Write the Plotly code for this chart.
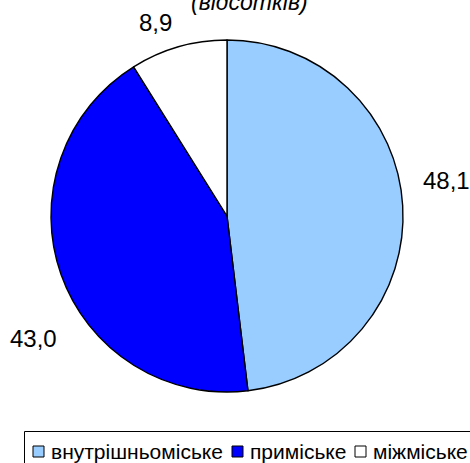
import plotly.graph_objects as go

categories = ["внутрішньоміське", "приміське", "міжміське"]
values = [48.1, 43.0, 8.9]
colors = ["#99CCFF", "#0000FF", "#FFFFFF"]
label_pos = [(446, 180), (33, 338), (155, 22)]  # pixel centers of value labels
legend_x = [33, 232, 355]  # left edge of each legend swatch (px)

W, H = 470, 463
cx, cy, r = 227, 216, 176

def px(x):
    return x / W

def py(y):
    return 1 - y / H

fig = go.Figure(go.Pie(
    labels=categories, values=values, sort=False, direction="clockwise", rotation=0,
    marker=dict(colors=colors, line=dict(color="black", width=1.4)),
    textinfo="none", hoverinfo="label+value", showlegend=False,
    domain=dict(x=[px(cx - r), px(cx + r)], y=[py(cy + r), py(cy - r)]),
))

for v, (lx, ly) in zip(values, label_pos):
    fig.add_annotation(x=px(lx), y=py(ly), xref="paper", yref="paper",
                       text=f"{v:.1f}".replace(".", ","), showarrow=False,
                       font=dict(size=24, color="black"), xanchor="center", yanchor="middle")

fig.add_annotation(x=px(249), y=py(17), xref="paper", yref="paper",
                   text="<i>(відсотків)</i>", showarrow=False,
                   font=dict(size=23, color="black"), xanchor="center", yanchor="bottom")

# legend box
fig.add_shape(type="rect", xref="paper", yref="paper",
              x0=px(24.5), x1=px(490), y0=py(431.5), y1=py(480),
              line=dict(color="black", width=1), fillcolor="rgba(0,0,0,0)")
for name, col, lx in zip(categories, colors, legend_x):
    fig.add_shape(type="rect", xref="paper", yref="paper",
                  x0=px(lx), x1=px(lx + 11), y0=py(457), y1=py(446),
                  line=dict(color="black", width=1), fillcolor=col)
    fig.add_annotation(x=px(lx + 16), y=py(451), xref="paper", yref="paper",
                       text=name, showarrow=False, font=dict(size=21, color="black"),
                       xanchor="left", yanchor="middle")

fig.update_layout(
    width=W, height=H, margin=dict(l=0, r=0, t=0, b=0, autoexpand=False),
    paper_bgcolor="white", plot_bgcolor="white",
    font=dict(family="Arial, Liberation Sans, sans-serif", color="black"),
    showlegend=False,
)

fig.write_html("out.html", config={"displayModeBar": False},
               post_script="document.body.style.margin='0';document.documentElement.style.overflow='hidden';")
